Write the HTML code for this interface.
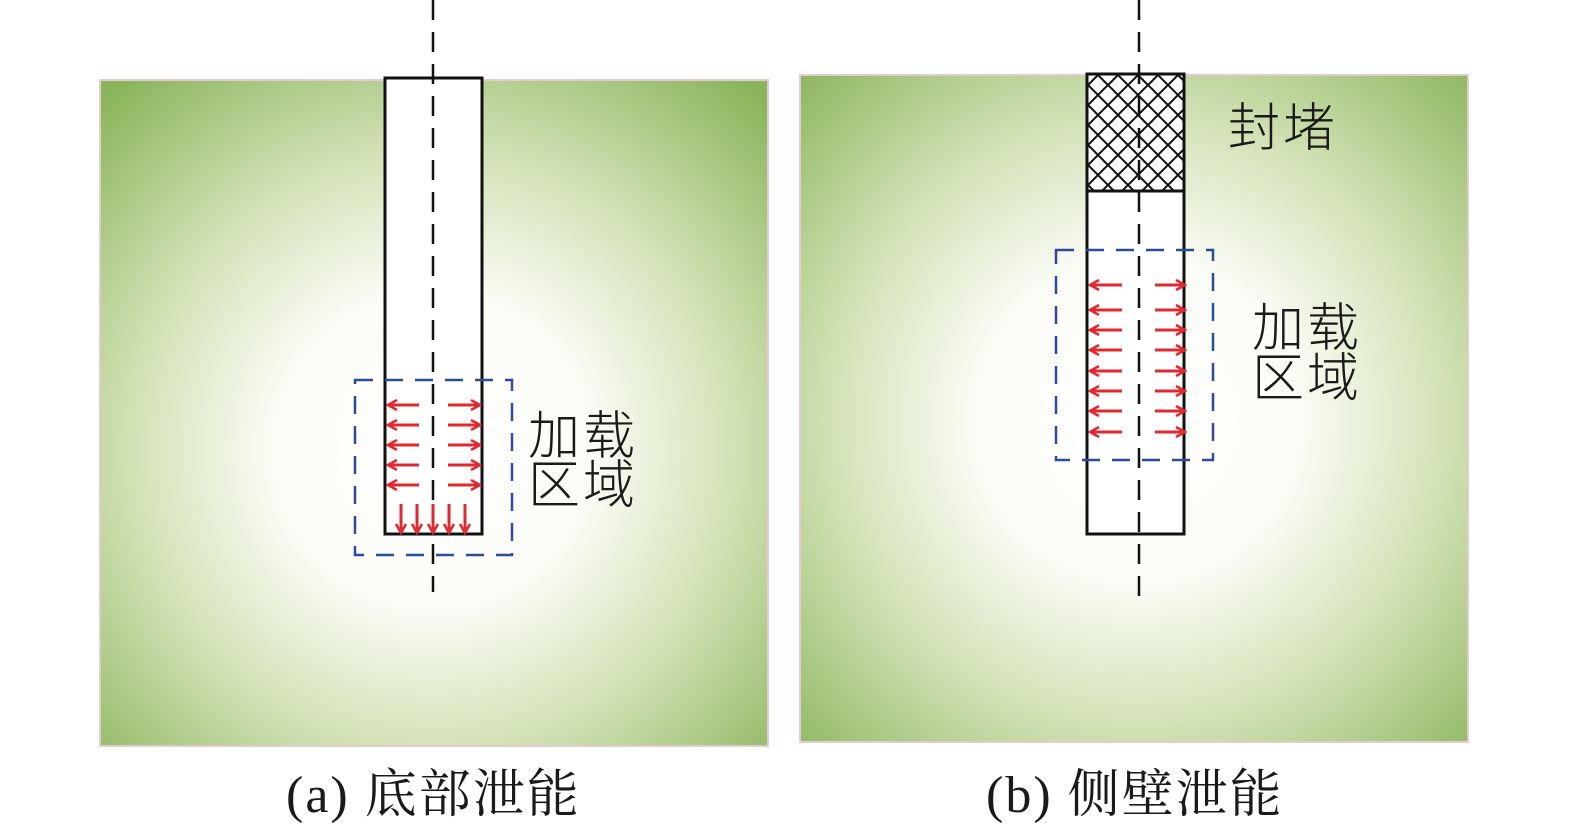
<!DOCTYPE html>
<html><head><meta charset="utf-8"><style>
html,body{margin:0;padding:0;background:#fff;}
svg{display:block;}
.cjk{font-family:"Noto Sans CJK SC","WenQuanYi Zen Hei",sans-serif;fill:#1a1a1a;font-weight:300;letter-spacing:3px;}
.cap{font-family:"Liberation Serif","Noto Serif CJK SC",serif;fill:#1a1a1a;letter-spacing:2px;}
</style></head><body>
<svg width="1575" height="834" viewBox="0 0 1575 834" xmlns="http://www.w3.org/2000/svg">
<defs>
<radialGradient id="ga" cx="433" cy="450" r="480" gradientUnits="userSpaceOnUse">
<stop offset="0" stop-color="#ffffff"/><stop offset="0.33" stop-color="#fbfcf6"/>
<stop offset="0.62" stop-color="#d3e2b7"/><stop offset="1" stop-color="#8ab55b"/></radialGradient>
<radialGradient id="gb" cx="1138" cy="420" r="490" gradientUnits="userSpaceOnUse">
<stop offset="0" stop-color="#ffffff"/><stop offset="0.33" stop-color="#fbfcf6"/>
<stop offset="0.62" stop-color="#d3e2b7"/><stop offset="1" stop-color="#8ab55b"/></radialGradient>
<marker id="ah" viewBox="0 0 12 12" refX="10" refY="6" markerWidth="12" markerHeight="12" markerUnits="userSpaceOnUse" orient="auto">
<path d="M1,1 L10,6 L1,11" fill="none" stroke="#e0282e" stroke-width="2.5"/></marker>
<pattern id="hatch" x="1088" y="75" width="20" height="20" patternUnits="userSpaceOnUse">
<rect width="20" height="20" fill="#fff"/>
<path d="M0,10 L10,0 L20,10 L10,20 Z" fill="none" stroke="#111" stroke-width="2"/></pattern>
</defs>
<rect x="100" y="80" width="668" height="666" fill="url(#ga)" stroke="#e4cccc" stroke-width="2"/>
<rect x="800" y="75" width="668" height="667" fill="url(#gb)" stroke="#e4cccc" stroke-width="2"/>

<rect x="385" y="78" width="97" height="456" fill="#fff" stroke="#111" stroke-width="3"/>
<line x1="433" y1="0" x2="433" y2="592" stroke="#111" stroke-width="2.5" stroke-dasharray="20,12"/>
<rect x="355" y="380" width="157" height="175" fill="none" stroke="#2c4b98" stroke-width="2.5" stroke-dasharray="18,12"/>
<g stroke="#e0282e" stroke-width="3" marker-end="url(#ah)">
<line x1="419" y1="405" x2="388" y2="405"/><line x1="448" y1="405" x2="480" y2="405"/>
<line x1="419" y1="425" x2="388" y2="425"/><line x1="448" y1="425" x2="480" y2="425"/>
<line x1="419" y1="445" x2="388" y2="445"/><line x1="448" y1="445" x2="480" y2="445"/>
<line x1="419" y1="465" x2="388" y2="465"/><line x1="448" y1="465" x2="480" y2="465"/>
<line x1="419" y1="485" x2="388" y2="485"/><line x1="448" y1="485" x2="480" y2="485"/>
<line x1="401" y1="504" x2="401" y2="533"/><line x1="417" y1="504" x2="417" y2="533"/>
<line x1="433" y1="504" x2="433" y2="533"/><line x1="449" y1="504" x2="449" y2="533"/>
<line x1="465" y1="504" x2="465" y2="533"/>
</g>
<text class="cjk" x="528" y="454" font-size="52">加载</text>
<text class="cjk" x="528" y="503" font-size="52">区域</text>

<rect x="1087" y="74" width="97" height="460" fill="#fff" stroke="#111" stroke-width="3"/>
<rect x="1087" y="74" width="97" height="117" fill="url(#hatch)" stroke="#111" stroke-width="3"/>
<line x1="1139" y1="0" x2="1139" y2="606" stroke="#111" stroke-width="2.5" stroke-dasharray="20,12"/>
<rect x="1056" y="250" width="157" height="210" fill="none" stroke="#2c4b98" stroke-width="2.5" stroke-dasharray="18,12"/>
<g stroke="#e0282e" stroke-width="3" marker-end="url(#ah)">
<line x1="1122" y1="285" x2="1090" y2="285"/><line x1="1155" y1="285" x2="1185" y2="285"/>
<line x1="1122" y1="310" x2="1090" y2="310"/><line x1="1155" y1="310" x2="1185" y2="310"/>
<line x1="1122" y1="330" x2="1090" y2="330"/><line x1="1155" y1="330" x2="1185" y2="330"/>
<line x1="1122" y1="350" x2="1090" y2="350"/><line x1="1155" y1="350" x2="1185" y2="350"/>
<line x1="1122" y1="371" x2="1090" y2="371"/><line x1="1155" y1="371" x2="1185" y2="371"/>
<line x1="1122" y1="391" x2="1090" y2="391"/><line x1="1155" y1="391" x2="1185" y2="391"/>
<line x1="1122" y1="411" x2="1090" y2="411"/><line x1="1155" y1="411" x2="1185" y2="411"/>
<line x1="1122" y1="432" x2="1090" y2="432"/><line x1="1155" y1="432" x2="1185" y2="432"/>
</g>
<text class="cjk" x="1228" y="146" font-size="52">封堵</text>
<text class="cjk" x="1252" y="346" font-size="52">加载</text>
<text class="cjk" x="1252" y="396" font-size="52">区域</text>

<text class="cap" x="286" y="812" font-size="52">(a) 底部泄能</text>
<text class="cap" x="986" y="812" font-size="52">(b) 侧壁泄能</text>
</svg>
</body></html>
